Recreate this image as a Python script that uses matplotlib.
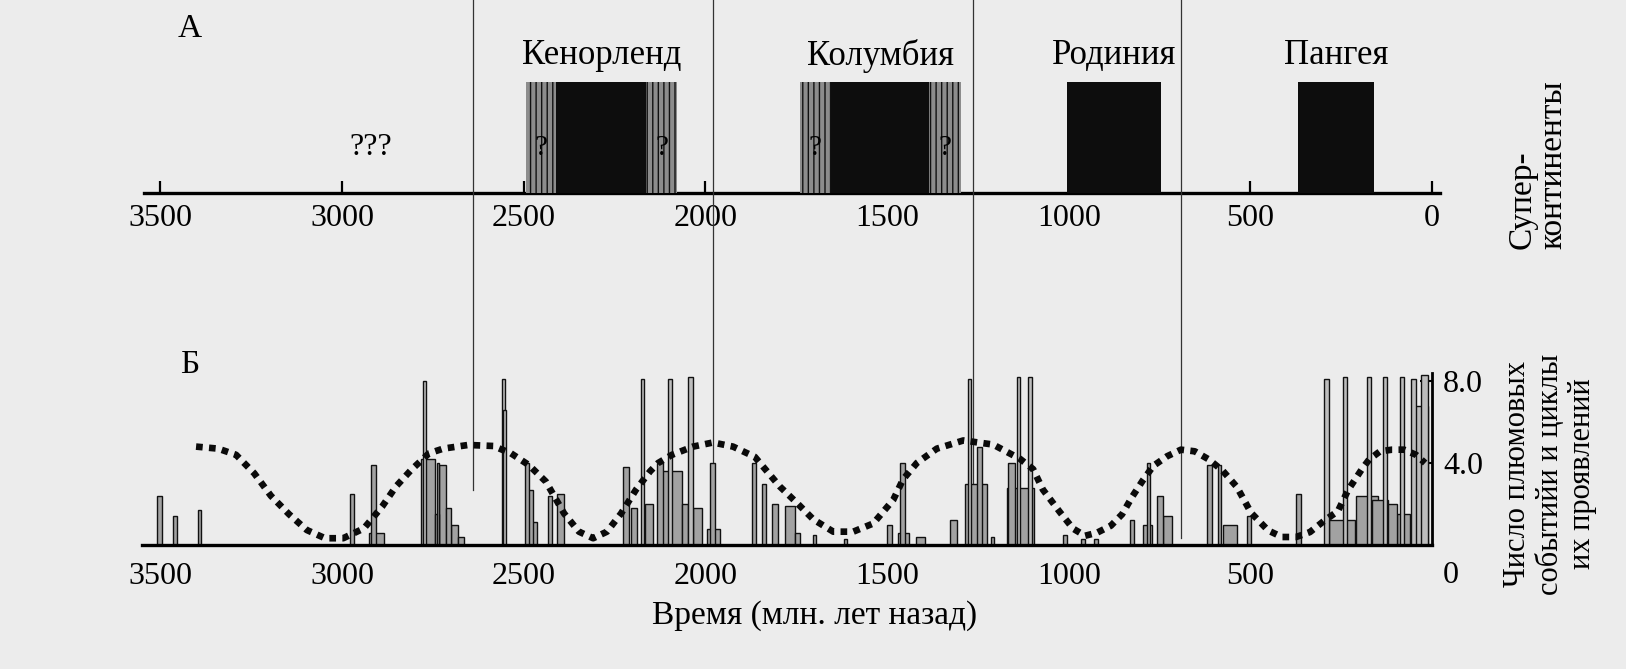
import matplotlib.pyplot as plt
import matplotlib.transforms as mtransforms

plt.rcParams['font.family'] = ['Liberation Serif', 'DejaVu Serif']

# ---------------- data ----------------
# panel A: supercontinents, ages in Ma
sc_names = ['Кенорленд', 'Колумбия', 'Родиния', 'Пангея']
sc_core_old = [2411, 1654, 1005, 368]
sc_core_young = [2163, 1385, 745, 160]
sc_fuzzy_old = [2494, 1740, None, None]      # uncertain margins (hatched)
sc_fuzzy_young = [2078, 1297, None, None]
time_ticks = [3500, 3000, 2500, 2000, 1500, 1000, 500, 0]

# panel B: plume events histogram (older edge, younger edge, count)
plume_old = [3510, 3465, 3397, 2978, 2925, 2920, 2783, 2777, 2745, 2740, 2733,
             2715, 2700, 2680, 2560, 2556, 2496, 2490, 2480, 2433, 2408, 2227,
             2205, 2177, 2165, 2132, 2130, 2103, 2064, 2048, 2034, 1995, 1987,
             1872, 1844, 1817, 1781, 1753, 1705, 1618, 1500, 1470, 1464, 1420,
             1327, 1285, 1278, 1252, 1215, 1170, 1167, 1142, 1112, 1015, 965,
             930, 830, 795, 785, 757, 740, 619, 589, 575, 509, 374, 297, 284,
             245, 210, 179, 165, 135, 120, 95, 88, 58, 50, 30]
plume_young = [3495, 3454, 3388, 2967, 2885, 2907, 2745, 2769, 2733, 2733, 2715,
               2700, 2680, 2665, 2552, 2548, 2485, 2475, 2464, 2422, 2389, 2210,
               2188, 2169, 2145, 2117, 2064, 2092, 2048, 2034, 2010, 1960, 1974,
               1861, 1833, 1800, 1753, 1740, 1695, 1610, 1486, 1440, 1450, 1395,
               1307, 1225, 1268, 1239, 1205, 1095, 1148, 1134, 1101, 1005, 955,
               920, 820, 770, 776, 740, 716, 605, 581, 537, 498, 360, 284, 212,
               234, 150, 168, 120, 124, 95, 60, 77, 44, 10, 11]
plume_n = [2.4, 1.4, 1.7, 2.5, 0.6, 3.9, 4.2, 8.0, 1.5, 4.0, 3.9,
           1.8, 1.0, 0.4, 8.1, 6.6, 4.0, 2.7, 1.1, 2.4, 2.5, 3.8,
           1.8, 8.1, 2.0, 4.0, 3.6, 8.1, 2.0, 8.2, 1.8, 0.8, 4.0,
           4.0, 3.0, 2.0, 1.9, 0.6, 0.5, 0.3, 1.0, 0.6, 4.0, 0.4,
           1.2, 3.0, 8.1, 4.8, 0.4, 2.8, 4.0, 8.2, 8.2, 0.5, 0.3,
           0.3, 1.2, 1.0, 4.0, 2.4, 1.4, 3.9, 3.9, 1.0, 1.4, 2.5, 8.1, 1.2,
           8.2, 2.4, 8.2, 2.2, 8.2, 2.0, 1.5, 8.2, 8.1, 6.8, 8.3]

# cycles of plume activity (dotted curve)
curve_age = [3402, 3341, 3292, 3242, 3196, 3146, 3097, 3047, 2997, 2940, 2890,
             2852, 2810, 2761, 2722, 2653, 2584, 2535, 2486, 2439, 2389, 2348,
             2309, 2271, 2232, 2191, 2152, 2130, 2092, 2034, 1979, 1924, 1864,
             1795, 1748, 1703, 1648, 1593, 1538, 1483, 1456, 1418, 1363, 1290,
             1208, 1134, 1098, 1071, 1024, 988, 955, 922, 884, 853, 825, 796,
             767, 729, 691, 653, 614, 576, 537, 498, 451, 413, 374, 336, 297,
             259, 231, 193, 173, 143, 110, 77, 44, 19]
curve_val = [4.8, 4.7, 4.4, 3.5, 2.4, 1.5, 0.73, 0.33, 0.33, 0.81, 1.87,
             2.85, 3.66, 4.47, 4.7, 4.88, 4.83, 4.47, 3.9, 3.09, 1.54, 0.65,
             0.33, 0.65, 1.54, 2.7, 3.6, 4.0, 4.4, 4.8, 5.0, 4.8, 4.3,
             2.85, 2.05, 1.25, 0.65, 0.65, 1.05, 2.2, 3.2, 4.0, 4.7, 5.1,
             4.9, 4.2, 3.7, 2.7, 1.6, 0.8, 0.45, 0.6, 0.94, 1.5, 2.36, 3.15,
             3.86, 4.33, 4.65, 4.57, 4.17, 3.62, 2.83, 1.57, 0.71, 0.39, 0.39, 0.63, 1.18,
             1.65, 2.68, 3.7, 4.17, 4.57, 4.65, 4.65, 4.4, 4.0]

# hand-drawn vertical guide lines across both panels
guide_age = [2640, 1978, 1263, 690]
guide_end_px = [490, 540, 500, 538]

# ---------------- layout ----------------
W, H = 1626, 669
PAGE = '#ececec'
X0_PX, PX_PER_MA = 1432, 0.3633
XLIM = (3560, -30)
left = (X0_PX - XLIM[0] * PX_PER_MA) / W
width = (XLIM[0] - XLIM[1]) * PX_PER_MA / W
FS = 23

fig = plt.figure(figsize=(W / 100, H / 100), dpi=100, facecolor=PAGE)
axA = fig.add_axes([left, 1 - 193 / H, width, 133 / H])
axB = fig.add_axes([left, 1 - 545 / H, width, 184.5 / H])
for ax in (axA, axB):
    ax.set_facecolor('none')
    ax.set_xlim(*XLIM)
    for s in ('top', 'left', 'right'):
        ax.spines[s].set_visible(False)
    ax.spines['bottom'].set_linewidth(2.4)

# ---- panel A ----
axA.set_ylim(0, 1.2)
axA.spines['bottom'].set_bounds(3545, -22)
axA.set_xticks(time_ticks, [str(t) for t in time_ticks])
axA.tick_params(axis='x', direction='in', length=9, width=1.6, labelsize=FS, pad=8)
axA.set_yticks([])
for name, co, cy, fo, fy in zip(sc_names, sc_core_old, sc_core_young,
                                 sc_fuzzy_old, sc_fuzzy_young):
    if fo is not None:
        axA.bar(fo, 1.0, width=fy - fo, align='edge', facecolor='#8c8c8c',
                edgecolor='#111111', linewidth=0, hatch='|||', zorder=3)
        for a, b in ((fo, co), (cy, fy)):
            axA.text((a + b) / 2, 0.41, '?', ha='center', va='center',
                     fontsize=FS - 2, zorder=5)
        mid = (fo + fy) / 2
    else:
        mid = (co + cy) / 2
    axA.bar(co, 1.0, width=cy - co, align='edge', color='#0d0d0d', zorder=4)
    axA.text(mid, 1.24, name, ha='center', va='center', fontsize=FS + 2, clip_on=False)
axA.text(2920, 0.41, '???', ha='center', va='center', fontsize=FS)
fig.text(190 / W, 1 - 29 / H, 'А', ha='center', va='center', fontsize=FS + 1)
fig.text(1538 / W, 1 - 165 / H, 'Супер-\nконтиненты', rotation=90, ha='center',
         va='center', fontsize=FS + 1, multialignment='left', linespacing=1.0)

# ---- panel B ----
axB.set_ylim(0, 9)
axB.spines['bottom'].set_bounds(3550, 0)
axB.spines['right'].set_visible(True)
axB.spines['right'].set_position(('data', 0))
axB.spines['right'].set_bounds(0, 8.4)
axB.spines['right'].set_linewidth(2)
axB.set_xticks(time_ticks[:-1], [str(t) for t in time_ticks[:-1]])
axB.tick_params(axis='x', length=0, labelsize=FS, pad=12)
axB.yaxis.tick_right()
axB.set_yticks([8, 4], ['8.0', '4.0'])
axB.tick_params(axis='y', direction='in', length=9, width=1.5, labelsize=FS, pad=8)
axB.annotate('0', xy=(0, 0), xytext=(8, -22), textcoords='offset points',
             ha='left', va='center', fontsize=FS)

order = sorted(range(len(plume_n)), key=lambda i: -(plume_old[i] - plume_young[i]))
for i in order:
    w = plume_old[i] - plume_young[i]
    fc = '#bdbdbd' if plume_n[i] > 6 else '#a2a2a2'
    axB.bar(plume_young[i], plume_n[i], width=w, align='edge', facecolor=fc,
            edgecolor='#111111', linewidth=1.0, zorder=2)

axB.plot(curve_age, curve_val, color='#0a0a0a', lw=4.8, linestyle=(0, (1, 0.95)),
         dash_capstyle='butt', zorder=4)

fig.text(190 / W, 1 - 365 / H, 'Б', ha='center', va='center', fontsize=FS + 1)
fig.text(815 / W, 1 - 616 / H, 'Время (млн. лет назад)', ha='center', va='center',
         fontsize=FS + 1)
fig.text(1550 / W, 1 - 474 / H, 'Число плюмовых\nсобытийи и циклы\nих проявлений',
         rotation=90, ha='center', va='center', fontsize=FS - 1, linespacing=1.15)

# guide lines spanning the figure
trans = mtransforms.blended_transform_factory(axB.transData, fig.transFigure)
for a, end in zip(guide_age, guide_end_px):
    axB.plot([a, a], [1.0, 1 - end / H], color='#333333', lw=0.9,
             transform=trans, clip_on=False, zorder=1)

fig.savefig('out.png', dpi=100, facecolor=PAGE)
